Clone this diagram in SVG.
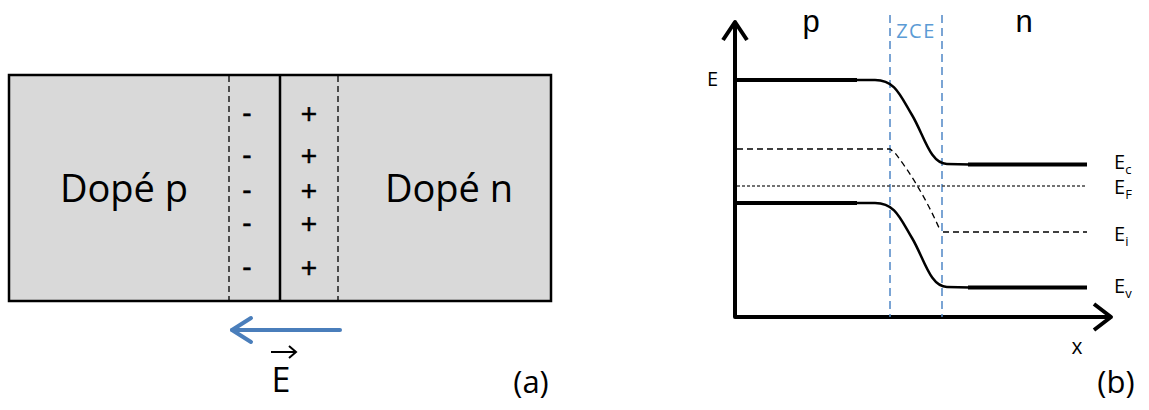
<svg xmlns="http://www.w3.org/2000/svg" width="1149" height="410" viewBox="0 0 1149 410">
<style>
text{font-family:"Open Sans","Liberation Sans",sans-serif;fill:#000}
.big{font-size:38px}
.sign{font-family:"Liberation Sans",sans-serif;font-size:28px;text-anchor:middle;stroke:#000;stroke-width:0.5}
.lbl{font-size:20px}
.sub{font-size:13px}
.top{font-family:"Liberation Sans",sans-serif;font-size:31px;text-anchor:middle}
.thick{stroke:#000;stroke-width:4;fill:none}
.thin{stroke:#000;stroke-width:2.5;fill:none}
.dash{stroke:#000;stroke-width:1.3;fill:none;stroke-dasharray:6 4}
.blue{stroke:#4f86c6;stroke-width:1.5;fill:none;stroke-dasharray:8 5}
</style>
<rect width="1149" height="410" fill="#fff"/>
<g id="panel-a">
  <g id="junction">
    <rect x="9" y="75" width="542" height="226" fill="#d9d9d9" stroke="#000" stroke-width="2.5"/>
    <line x1="229" y1="76" x2="229" y2="300" class="dash"/>
    <line x1="338" y1="76" x2="338" y2="300" class="dash"/>
    <line x1="280" y1="76" x2="280" y2="300" stroke="#000" stroke-width="2.5"/>
    <text x="124" y="202" class="big" text-anchor="middle">Dopé p</text>
    <text x="449" y="202" class="big" text-anchor="middle">Dopé n</text>
    <g class="signs">
      <text x="247" y="122" class="sign">-</text>
      <text x="247" y="164" class="sign">-</text>
      <text x="247" y="199" class="sign">-</text>
      <text x="247" y="232" class="sign">-</text>
      <text x="247" y="276" class="sign">-</text>
      <text x="309" y="123" class="sign">+</text>
      <text x="309" y="165" class="sign">+</text>
      <text x="309" y="200" class="sign">+</text>
      <text x="309" y="233" class="sign">+</text>
      <text x="309" y="277" class="sign">+</text>
    </g>
  </g>
  <g id="field-arrow">
    <line x1="232" y1="330" x2="340" y2="330" stroke="#4a7ebb" stroke-width="4" stroke-linecap="round"/>
    <polyline points="251,318 232,330 251,342" fill="none" stroke="#4a7ebb" stroke-width="4" stroke-linecap="round" stroke-linejoin="round"/>
  </g>
  <g id="field-label">
    <text x="281" y="392" font-size="34" text-anchor="middle">E</text>
    <line x1="271" y1="352" x2="296" y2="352" stroke="#000" stroke-width="2"/>
    <polyline points="289,346 296,352 289,358" fill="none" stroke="#000" stroke-width="2"/>
  </g>
  <text x="531" y="393" font-size="31" text-anchor="middle">(a)</text>
</g>
<g id="panel-b">
  <g id="axes">
    <polyline points="735,22 735,317 1111,317" class="thick" stroke-linejoin="round"/>
    <polyline points="723,40 735,22 747,40" class="thick" stroke-linejoin="round"/>
    <polyline points="1094,304 1111,317 1094,330" class="thick" stroke-linejoin="round"/>
    <text x="707" y="86" class="lbl">E</text>
    <text x="1077" y="354" font-size="21" text-anchor="middle">x</text>
  </g>
  <g id="zce">
    <line x1="890" y1="15" x2="890" y2="317" class="blue"/>
    <line x1="942" y1="15" x2="942" y2="317" class="blue"/>
    <text x="916" y="38" font-size="20" letter-spacing="1.5" style="fill:#5b9bd5" text-anchor="middle">ZCE</text>
  </g>
  <text x="811" y="32" class="top">p</text>
  <text x="1024" y="32" class="top">n</text>
  <g id="Ec">
    <path d="M737,80 H857 M968,164.5 H1087" class="thick"/>
    <path d="M855,80 L875,80 C895,80 900,95 912,115 S930,164 947,164 L970,164.5" class="thin"/>
    <text x="1114" y="169" class="lbl">E<tspan class="sub" dy="5">c</tspan></text>
  </g>
  <g id="EF">
    <line x1="737" y1="186" x2="1087" y2="186" stroke="#444" stroke-width="1.3" stroke-dasharray="3 2"/>
    <text x="1114" y="194" class="lbl">E<tspan class="sub" dy="5">F</tspan></text>
  </g>
  <g id="Ei">
    <path d="M737,149 H890 L895,153 Q920,185 940,230 M943,232 H1087" class="dash"/>
    <text x="1114" y="241" class="lbl">E<tspan class="sub" dy="5">i</tspan></text>
  </g>
  <g id="Ev">
    <path d="M737,203 H857 M968,287.5 H1087" class="thick"/>
    <path d="M855,203 L875,203 C895,203 900,218 912,238 S930,287 947,287 L970,287.5" class="thin"/>
    <text x="1114" y="293" class="lbl">E<tspan class="sub" dy="5">v</tspan></text>
  </g>
  <text x="1116" y="393" font-size="31" text-anchor="middle">(b)</text>
</g>
</svg>
